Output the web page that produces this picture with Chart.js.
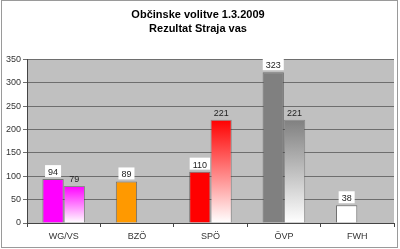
<!DOCTYPE html>
<html>
<head>
  <meta charset="utf-8">
  <title>Občinske volitve 1.3.2009</title>
  <script src="https://cdn.jsdelivr.net/npm/chart.js"></script>
  <style>
    body { margin: 0; background: #fff; }
    #wrap { width: 400px; height: 249px; }
  </style>
</head>
<body>
  <div id="wrap"><canvas id="myChart"></canvas></div>

  <script>
    // chart data
    const titleLines = ['Občinske volitve 1.3.2009', 'Rezultat Straja vas'];
    const parties = ['WG/VS', 'BZÖ', 'SPÖ', 'ÖVP', 'FWH'];
    const votesA = [94, 89, 110, 323, 38];
    const votesB = [79, null, 221, 221, null];
    const partyColors = ['#ff00ff', '#ff9900', '#ff0000', '#808080', '#ffffff'];
    const yTicks = [0, 50, 100, 150, 200, 250, 300, 350];

    // gray plot background + outer frame
    const frame = {
      id: 'frame',
      beforeDraw(chart) {
        const c = chart.ctx, a = chart.chartArea;
        c.save();
        c.fillStyle = '#c0c0c0';
        c.fillRect(a.left, a.top, a.right - a.left, a.bottom - a.top);
        c.strokeStyle = '#9a9a9a';
        c.lineWidth = 1;
        c.strokeRect(1.5, 0.5, 396, 247);
        c.restore();
      }
    };

    // value labels above bars (first series in white boxes)
    const valueLabels = {
      id: 'valueLabels',
      afterDatasetsDraw(chart) {
        const c = chart.ctx;
        c.save();
        c.font = '9px "Liberation Sans", Arial, sans-serif';
        c.textAlign = 'center';
        c.textBaseline = 'bottom';
        chart.data.datasets.forEach((ds, i) => {
          chart.getDatasetMeta(i).data.forEach((bar, j) => {
            const v = ds.data[j];
            if (v == null) return;
            const txt = String(v);
            const w = c.measureText(txt).width + 6;
            const y = bar.y - 2;
            if (i === 0) {
              c.fillStyle = '#fff';
              c.fillRect(bar.x - w / 2, y - 12, w, 12);
            }
            c.fillStyle = '#222';
            c.fillText(txt, bar.x, y);
          });
        });
        c.restore();
      }
    };

    function fadeFill(ctx) {
      const chart = ctx.chart;
      const color = partyColors[ctx.dataIndex];
      const v = ctx.raw;
      if (v == null || !chart.chartArea) return color;
      const y = chart.scales.y;
      const g = chart.ctx.createLinearGradient(0, y.getPixelForValue(v), 0, y.getPixelForValue(0));
      g.addColorStop(0, color);
      g.addColorStop(1, '#ffffff');
      return g;
    }

    new Chart(document.getElementById('myChart'), {
      type: 'bar',
      data: {
        labels: parties,
        datasets: [
          {
            data: votesA,
            backgroundColor: partyColors,
            borderColor: 'rgba(60,60,60,0.6)',
            borderWidth: 1,
            categoryPercentage: 0.58,
            barPercentage: 1.0
          },
          {
            data: votesB,
            backgroundColor: fadeFill,
            borderColor: 'rgba(60,60,60,0.4)',
            borderWidth: 1,
            categoryPercentage: 0.58,
            barPercentage: 1.0
          }
        ]
      },
      options: {
        responsive: true,
        maintainAspectRatio: false,
        animation: false,
        layout: { padding: { left: 2, right: 6, top: 0, bottom: 4 } },
        plugins: {
          legend: { display: false },
          tooltip: { enabled: false },
          title: {
            display: true,
            text: titleLines,
            color: '#000',
            font: { family: '"Liberation Sans", Arial, sans-serif', size: 11, weight: 'bold', lineHeight: 1.3 },
            padding: { top: 8, bottom: 23 }
          }
        },
        scales: {
          x: {
            grid: { display: true, drawOnChartArea: false, offset: true, color: '#444', tickLength: 4 },
            border: { color: '#444' },
            ticks: { color: '#333', font: { family: '"Liberation Sans", Arial, sans-serif', size: 9 }, padding: 4 },
            afterFit: s => { s.height = 22; }
          },
          y: {
            min: 0,
            max: 350,
            afterBuildTicks: s => { s.ticks = yTicks.map(v => ({ value: v })); },
            grid: { color: '#6e6e6e', tickLength: 4 },
            border: { color: '#444' },
            ticks: { color: '#333', font: { family: '"Liberation Sans", Arial, sans-serif', size: 9 }, padding: 2 },
            afterFit: s => { s.width = 25; }
          }
        }
      },
      plugins: [frame, valueLabels]
    });
  </script>
</body>
</html>
